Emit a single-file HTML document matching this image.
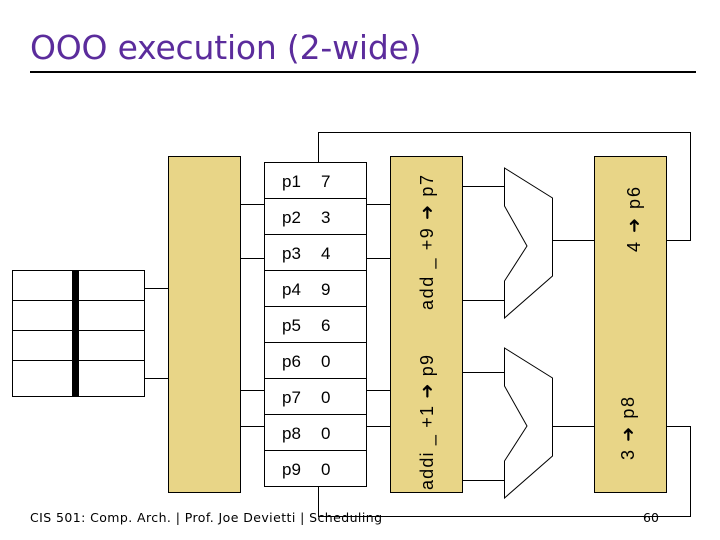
<!DOCTYPE html>
<html><head><style>
body{margin:0;width:720px;height:540px;background:#fff;overflow:hidden;position:relative;font-family:"Liberation Sans",sans-serif}
</style></head><body>
<div style="position:absolute;left:30px;top:28px;font-size:33px;color:#5b2c9c;font-family:'DejaVu Sans',sans-serif;letter-spacing:-0.2px">OOO execution (2-wide)</div>
<div style="position:absolute;left:30px;top:71px;width:666px;height:2px;background:#000"></div>
<svg width="720" height="540" style="position:absolute;left:0;top:0" font-family="Liberation Sans, sans-serif">
<g stroke="#000" stroke-width="1" fill="none">
<rect x="12.5" y="270.5" width="132" height="126" fill="#fff"/>
<line x1="12" y1="300.5" x2="144" y2="300.5"/><line x1="12" y1="330.5" x2="144" y2="330.5"/><line x1="12" y1="360.5" x2="144" y2="360.5"/>
<line x1="144" y1="288.5" x2="168" y2="288.5"/><line x1="144" y1="378.5" x2="168" y2="378.5"/>
<rect x="168.5" y="156.5" width="72" height="336" fill="#e8d587"/>
<line x1="240" y1="204.5" x2="264" y2="204.5"/><line x1="240" y1="258.5" x2="264" y2="258.5"/><line x1="240" y1="390.5" x2="264" y2="390.5"/><line x1="240" y1="426.5" x2="264" y2="426.5"/>
<line x1="366" y1="204.5" x2="390" y2="204.5"/><line x1="366" y1="258.5" x2="390" y2="258.5"/><line x1="366" y1="390.5" x2="390" y2="390.5"/><line x1="366" y1="426.5" x2="390" y2="426.5"/>
<rect x="264.5" y="162.5" width="102" height="324" fill="#fff"/>
<line x1="264" y1="198.5" x2="366" y2="198.5"/><line x1="264" y1="234.5" x2="366" y2="234.5"/><line x1="264" y1="270.5" x2="366" y2="270.5"/><line x1="264" y1="306.5" x2="366" y2="306.5"/><line x1="264" y1="342.5" x2="366" y2="342.5"/><line x1="264" y1="378.5" x2="366" y2="378.5"/><line x1="264" y1="414.5" x2="366" y2="414.5"/><line x1="264" y1="450.5" x2="366" y2="450.5"/>
<polyline points="318.5,162 318.5,132.5 690.5,132.5 690.5,240.5 666,240.5"/>
<polyline points="318.5,486 318.5,516.5 690.5,516.5 690.5,426.5 666,426.5"/>
<rect x="390.5" y="156.5" width="72" height="336" fill="#e8d587"/>
<line x1="462" y1="186.5" x2="504" y2="186.5"/><line x1="462" y1="300.5" x2="504" y2="300.5"/>
<line x1="462" y1="372.5" x2="504" y2="372.5"/><line x1="462" y1="480.5" x2="504" y2="480.5"/>
<polygon points="504.5,168 552.5,198 552.5,276 504.5,318 504.5,281 527,246 504.5,206" fill="#fff"/>
<polygon points="504.5,348 552.5,378 552.5,456 504.5,498 504.5,461 527,426 504.5,386" fill="#fff"/>
<line x1="552" y1="240.5" x2="594" y2="240.5"/><line x1="552" y1="426.5" x2="594" y2="426.5"/>
<rect x="594.5" y="156.5" width="72" height="336" fill="#e8d587"/>
</g>
<rect x="72" y="270" width="7" height="127" fill="#000"/>
<g font-size="17" fill="#000">
<text x="282" y="187">p1</text><text x="321" y="187">7</text>
<text x="282" y="223">p2</text><text x="321" y="223">3</text>
<text x="282" y="259">p3</text><text x="321" y="259">4</text>
<text x="282" y="295">p4</text><text x="321" y="295">9</text>
<text x="282" y="331">p5</text><text x="321" y="331">6</text>
<text x="282" y="367">p6</text><text x="321" y="367">0</text>
<text x="282" y="403">p7</text><text x="321" y="403">0</text>
<text x="282" y="439">p8</text><text x="321" y="439">0</text>
<text x="282" y="475">p9</text><text x="321" y="475">0</text>
</g>
<g font-size="18" fill="#000">
<text transform="translate(433,310) rotate(-90)" textLength="135" lengthAdjust="spacing">add _  +9 ➜ p7</text>
<text transform="translate(433,490) rotate(-90)" textLength="135" lengthAdjust="spacing">addi _ +1 ➜ p9</text>
<text transform="translate(640,252) rotate(-90)" textLength="65" lengthAdjust="spacing">4 ➜ p6</text>
<text transform="translate(634,460) rotate(-90)" textLength="63" lengthAdjust="spacing">3 ➜ p8</text>
</g>
<text x="30" y="522" font-size="12.5" fill="#000" font-family="DejaVu Sans, sans-serif" textLength="352">CIS 501: Comp. Arch.  |  Prof. Joe Devietti  |  Scheduling</text>
<text x="643" y="522" font-size="12.5" fill="#000" font-family="DejaVu Sans, sans-serif">60</text>
</svg>
</body></html>
